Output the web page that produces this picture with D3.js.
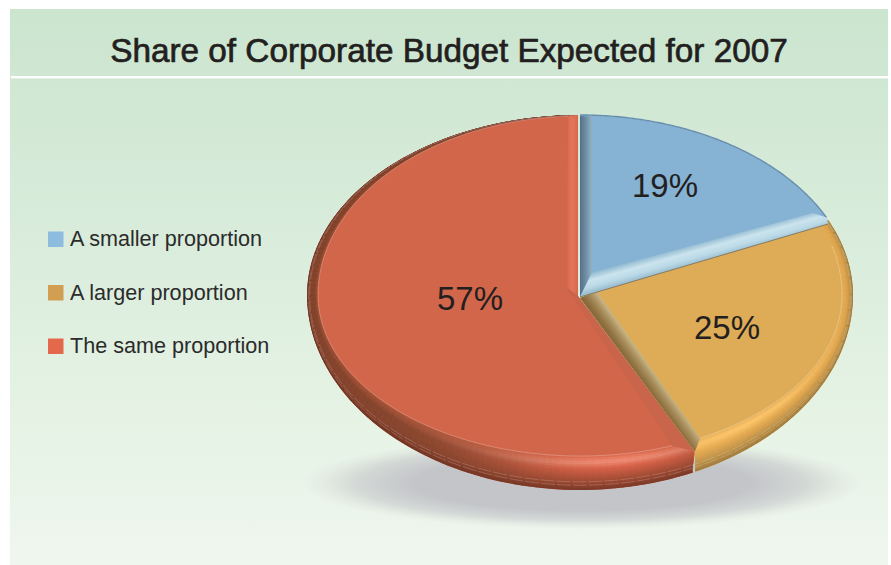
<!DOCTYPE html>
<html>
<head>
<meta charset="utf-8">
<script src="https://d3js.org/d3.v7.min.js"></script>
<style>
html,body{margin:0;padding:0;background:#fff}
svg{display:block}
text{font-family:"Liberation Sans",Arial,sans-serif}
</style>
</head>
<body>
<svg id="chart" width="891" height="565"></svg>
<script>
// Budget survey figures
const categories = ["A smaller proportion", "A larger proportion", "The same proportion"];
const shares = [19, 25, 57];
const shareLabels = ["19%", "25%", "57%"];
const legendColors = ["#8ebcdf", "#d29f52", "#e3684c"];
const chartTitle = "Share of Corporate Budget Expected for 2007";

const svg = d3.select("#chart");
const defs = svg.append("defs");
const deg = Math.PI / 180;

function grad(id, stops, x1 = 0, y1 = 0, x2 = 0, y2 = 1, user = false) {
  const g = defs.append("linearGradient").attr("id", id)
    .attr("x1", x1).attr("y1", y1).attr("x2", x2).attr("y2", y2);
  if (user) g.attr("gradientUnits", "userSpaceOnUse");
  stops.forEach(([o, c]) => g.append("stop").attr("offset", o).attr("stop-color", c));
  return `url(#${id})`;
}

// Panel backdrop and title band
const panel = { x: 10, y: 9, w: 878, h: 556, band: 67 };
svg.append("rect").attr("x", panel.x).attr("y", panel.y).attr("width", panel.w).attr("height", panel.h)
  .attr("fill", grad("bodyFill", [[0, "#cbe5cf"], [0.4, "#d9ecdb"], [0.75, "#e6f3e5"], [1, "#eff6ee"]]));
svg.append("rect").attr("x", panel.x + 1).attr("y", panel.y + panel.band).attr("width", panel.w - 1).attr("height", 2.4).attr("fill", "#fff");
svg.append("text").attr("x", 449).attr("y", 61.5).attr("text-anchor", "middle")
  .attr("font-size", 33.3).attr("fill", "#231f20").attr("stroke", "#231f20").attr("stroke-width", 0.7)
  .text(chartTitle);

// Legend
const legendY = d3.scalePoint().domain(categories).range([239, 346]);
const legend = svg.append("g").selectAll("g").data(categories).join("g")
  .attr("transform", d => `translate(48,${legendY(d)})`);
legend.append("rect").attr("y", -7.5).attr("width", 15.5).attr("height", 15.5)
  .attr("fill", (d, i) => legendColors[i]);
legend.append("text").attr("x", 22).attr("y", 7).attr("font-size", 21.6).attr("fill", "#2b2b2b").text(d => d);

// Soft ground shadow under the pie
const shadowFill = defs.append("radialGradient").attr("id", "shadowFill");
[[0, 1], [0.6, 1], [0.8, 0.6], [0.92, 0.18], [1, 0]].forEach(([o, a]) =>
  shadowFill.append("stop").attr("offset", o).attr("stop-color", "#c4c5c9").attr("stop-opacity", a));
svg.append("ellipse").attr("cx", 582).attr("cy", 483).attr("rx", 280).attr("ry", 46)
  .attr("fill", "url(#shadowFill)");

// Perspective projection of pie angles onto the tilted disc
const warp = d3.scaleLinear().domain([0, 90 * deg, 180 * deg, 360 * deg]).range([0, 87 * deg, 180 * deg, 360 * deg]);
const center = { x: 580, y: 295 };
const outerR = { x: 273, up: 180, down: 195 };
const faceR = { x: 262, up: 179, down: 161 };
function project(a, R) {
  const p = warp(a), c = Math.cos(p);
  return [center.x + R.x * Math.sin(p), center.y - (c > 0 ? R.up : R.down) * c];
}
function mix(A, B, t) { return [A[0] + (B[0] - A[0]) * t, A[1] + (B[1] - A[1]) * t]; }
const rimPoint = (a, t) => mix(project(a, faceR), project(a, outerR), t);
const pathOf = d3.line().curve(d3.curveLinear);
const closed = pts => pathOf(pts) + "Z";

const arcs = d3.pie().sort(null).value(d => d)(shares);
const [blue, orange, red] = arcs;
const sample = (a0, a1, R, n = 120) => d3.range(n + 1).map(i => project(a0 + (a1 - a0) * i / n, R));

// Rim shading: one colour ramp across the rim, brightened towards the light
function rampOf(stops) {
  return d3.scaleLinear().domain(stops.map(s => s[0])).range(stops.map(s => s[1])).interpolate(d3.interpolateRgb);
}
function drawRim(a0, a1, darkRamp, litRamp, lightAt, spread, clipId) {
  const g = svg.append("g").attr("clip-path", `url(#${clipId})`);
  const dA = 1.5 * deg, steps = Math.ceil((a1 - a0) / dA), tn = 16;
  for (let i = 0; i < steps; i++) {
    const s = a0 + (a1 - a0) * i / steps, e = a0 + (a1 - a0) * (i + 1) / steps;
    const mid = (s + e) / 2;
    const lit = Math.exp(-Math.pow((mid - lightAt) / spread, 2));
    for (let j = 0; j < tn; j++) {
      const t0 = j / tn, t1 = (j + 1) / tn, c = d3.interpolateRgb(darkRamp((t0 + t1) / 2), litRamp((t0 + t1) / 2))(lit);
      g.append("path").attr("d", closed([rimPoint(s, t0), rimPoint(e, t0), rimPoint(e, t1), rimPoint(s, t1)]))
        .attr("fill", c).attr("stroke", c).attr("stroke-width", 0.5);
    }
  }
  // fine pale seams along the rim
  [0.76, 0.86].forEach(t => {
    g.append("path").attr("d", pathOf(d3.range(steps + 1).map(i => rimPoint(a0 + (a1 - a0) * i / steps, t))))
      .attr("fill", "none").attr("stroke", "#fff").attr("stroke-opacity", 0.26).attr("stroke-width", 0.7).attr("stroke-dasharray", "14 2");
  });
}

// Shared cut between the red and orange slices
const orA0 = orange.startAngle, orA1 = orange.endAngle;
const orOuter = sample(orA0, orA1 - 1 * deg, outerR);
const orOuterEnd = orOuter[orOuter.length - 1];
const bevelEnd = [orOuterEnd[0] - 0.5, orOuterEnd[1] - 20];

// ----- Red slice -----
const redA0 = red.startAngle, redA1 = red.endAngle;
const redTip = [578, 296], redFaceTip = [566, 287];
const redOuter = sample(redA0 - 0.5 * deg, redA1, outerR);
const redTopRight = [578, center.y - outerR.up];
const redShape = closed([redTip, bevelEnd, [orOuterEnd[0] - 3, orOuterEnd[1] - 1], ...redOuter, redTopRight]);
defs.append("clipPath").attr("id", "redClip").append("path").attr("d", redShape);
svg.append("path").attr("d", redShape).attr("fill", "#c65f45");
drawRim(redA0 - 5 * deg, redA1,
  rampOf([[0, "#a95539"], [0.35, "#82462f"], [0.75, "#84452f"], [1, "#6f3524"]]),
  rampOf([[0, "#d9684c"], [0.1, "#e87c62"], [0.2, "#f0917a"], [0.38, "#d9644a"], [0.72, "#a54e37"], [1, "#7a3a28"]]),
  172 * deg, 30 * deg, "redClip");
const redFace = sample(redA0 + 3.2 * deg, redA1 - 2.6 * deg, faceR);
svg.append("path").attr("d", closed([redTopRight, [566, center.y - faceR.up], redFaceTip, redTip]))
  .attr("fill", grad("redBevel", [[0, "#d2654a"], [0.4, "#df7459"], [0.65, "#e27258"], [1, "#d6674c"]], 566, 0, 578, 0, true));
svg.append("path").attr("d", closed([redTip, redFaceTip, redFace[0], bevelEnd]))
  .attr("fill", "#c9654a");
svg.append("path").attr("d", closed([redFaceTip, ...redFace])).attr("fill", "#d2664a");
svg.append("path").attr("d", pathOf(redFace)).attr("fill", "none").attr("stroke", "#fff").attr("stroke-opacity", 0.3).attr("stroke-width", 0.8);

// ----- Orange slice -----
const orTip = [580, 298], orFaceTip = [597, 291];
const orShape = closed([orTip, ...orOuter, bevelEnd]);
defs.append("clipPath").attr("id", "orClip").append("path").attr("d", orShape);
svg.append("path").attr("d", orShape).attr("fill", "#dcab57");
drawRim(orA0, orA1 - 1 * deg,
  rampOf([[0, "#e4ac56"], [0.5, "#dca550"], [0.85, "#b48a45"], [1, "#9c7a3e"]]),
  rampOf([[0, "#e8ae58"], [0.18, "#ffc86f"], [0.42, "#e8ad55"], [0.76, "#c0944c"], [1, "#a07c3e"]]),
  142 * deg, 30 * deg, "orClip");
const orFace = sample(orA0 + 0.2 * deg, orA1 - 3.3 * deg, faceR);
const orFaceEnd = orFace[orFace.length - 1];
// brown bevel along the orange slice's cut edge
svg.append("path").attr("d", closed([orTip, orFaceTip, orFaceEnd, bevelEnd]))
  .attr("fill", grad("orBevel", [[0, "#836436"], [0.3, "#8f7040"], [0.7, "#ab9260"], [1, "#c7b282"]], 592, 316, 606, 306, true));
svg.append("path").attr("d", closed([orFaceTip, ...orFace])).attr("fill", "#deab57");
svg.append("path").attr("d", pathOf(orFace.slice(12))).attr("fill", "none").attr("stroke", "#fff").attr("stroke-opacity", 0.32).attr("stroke-width", 0.8);

// ----- Blue slice -----
const blA0 = blue.startAngle, blA1 = blue.endAngle;
const blTip = [580, 297], blFaceTip = [592, 272.5];
const blOuter = sample(blA0, blA1 - 1 * deg, outerR);
const blLowEnd = [828, 224], blInnerEnd = [813, 213];
svg.append("path").attr("d", closed([blTip, ...blOuter, blLowEnd])).attr("fill", "#86b2d4");
svg.append("path").attr("d", pathOf(blOuter)).attr("fill", "none").attr("stroke", "#6a8fad").attr("stroke-width", 1.4);
svg.append("path").attr("d", closed([blTip, [580, center.y - outerR.up + 1], [592, center.y - outerR.up + 1.5], blFaceTip]))
  .attr("fill", grad("blLeft", [[0, "#566f88"], [0.5, "#6f8fa6"], [1, "#93b3c3"]], 580, 0, 592, 0, true));
svg.append("path").attr("d", closed([blTip, blFaceTip, blInnerEnd, blOuter[blOuter.length - 1], blLowEnd]))
  .attr("fill", grad("blLow", [[0, "#8fb8cf"], [0.4, "#cbe4ee"], [0.75, "#b9d8e6"], [1, "#9dc0d2"]], 600, 270, 605, 288, true));
svg.append("path").attr("d", pathOf([blTip, blLowEnd])).attr("fill", "none").attr("stroke", "#8a7a5e").attr("stroke-width", 1);

// Percentage labels
const labelPos = d3.scaleOrdinal().domain(shareLabels).range([[665, 197], [727, 339], [470, 310]]);
svg.append("g").selectAll("text").data(shareLabels).join("text")
  .attr("x", d => labelPos(d)[0]).attr("y", d => labelPos(d)[1])
  .attr("text-anchor", "middle").attr("font-size", 33).attr("fill", "#231f20").text(d => d);
</script>
</body>
</html>
